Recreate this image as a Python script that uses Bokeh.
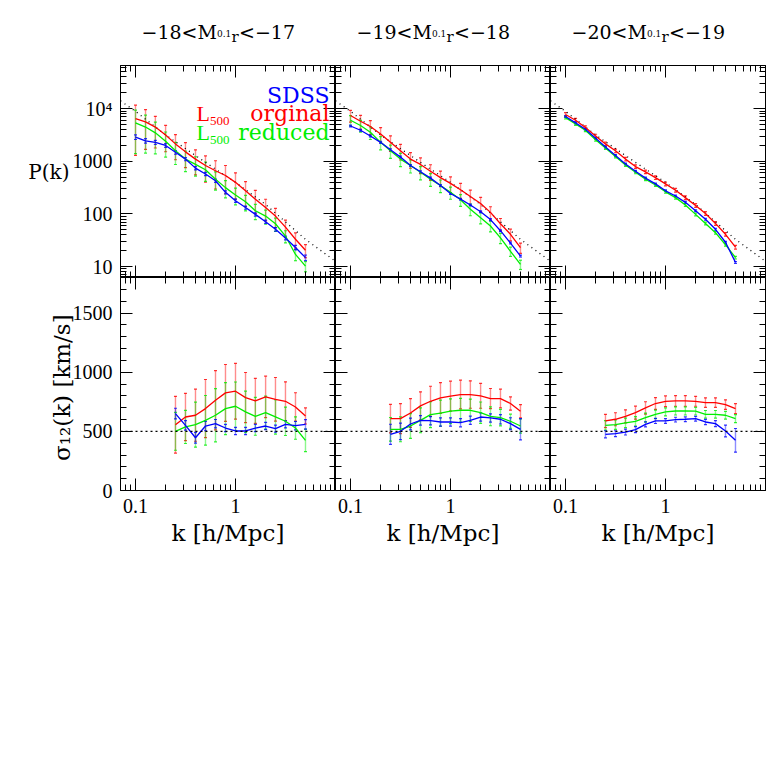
import math
from bokeh.plotting import figure
from bokeh.layouts import gridplot, column
from bokeh.models import (FixedTicker, LogAxis, LinearAxis, CustomJSTickFormatter,
                          Label, Range1d, Whisker, TeeHead, ColumnDataSource, Span)
from bokeh.embed import file_html
from bokeh.resources import INLINE

FONT = "Liberation Serif"
WFONT = "DejaVu Serif"
BLUE, RED, GREEN = "#0000ff", "#ff0000", "#00ee00"

# ---------------- data ----------------
k_pk = [0.1, 0.126, 0.158, 0.2, 0.251, 0.316, 0.398, 0.501, 0.631, 0.794,
        1.0, 1.26, 1.58, 2.0, 2.51, 3.16, 3.98, 5.01]
k_sig = [0.251, 0.316, 0.398, 0.501, 0.631, 0.794, 1.0, 1.26, 1.58, 2.0,
         2.51, 3.16, 3.98, 5.01]
k_model = [0.0708, 0.1, 0.2, 0.5, 1.0, 2.0, 5.0, 10.0]
pk_model = [14100, 8900, 3160, 955, 398, 151, 33, 12.6]
sigma_ref = 500

title_lo = ["\u221218", "\u221219", "\u221220"]
title_hi = ["\u221217", "\u221218", "\u221219"]

# P(k), -18<M<-17
pk_sdss_1 = [2880, 2450, 2290, 2000, 1480, 1100, 741, 575, 427, 257, 178, 132, 98, 71, 51, 35, 23, 14.8]
pk_orig_1 = [6460, 5620, 4470, 3160, 2140, 1510, 1100, 832, 661, 537, 398, 275, 191, 132, 91, 56, 33, 20.4]
pk_redu_1 = [5370, 4470, 3470, 2400, 1580, 1100, 871, 692, 457, 316, 229, 170, 115, 91, 65, 38, 17, 10.2]
rel_sdss_1 = [0.1, 0.1, 0.09, 0.08, 0.08, 0.07, 0.07, 0.07, 0.07, 0.07, 0.07, 0.07, 0.07, 0.07, 0.08, 0.08, 0.1, 0.12]
rel_orig_1 = [0.8, 0.7, 0.6, 0.52, 0.5, 0.5, 0.5, 0.52, 0.55, 0.55, 0.52, 0.5, 0.47, 0.44, 0.4, 0.36, 0.32, 0.28]
rel_redu_1 = [0.74, 0.68, 0.6, 0.5, 0.45, 0.42, 0.4, 0.4, 0.38, 0.36, 0.35, 0.33, 0.32, 0.3, 0.28, 0.26, 0.24, 0.22]

# P(k), -19<M<-18
pk_sdss_2 = [4680, 3890, 3020, 2290, 1660, 1200, 832, 631, 479, 347, 245, 191, 148, 110, 78, 48, 28, 15.8]
pk_orig_2 = [7410, 5750, 4570, 3310, 2290, 1580, 1100, 871, 646, 490, 380, 288, 214, 158, 107, 65, 41, 22.9]
pk_redu_2 = [6030, 4790, 3550, 2290, 1580, 1100, 832, 617, 457, 347, 257, 186, 123, 85, 59, 35, 19.5, 11.0]
rel_sdss_2 = [0.04] * 18
rel_orig_2 = [0.25, 0.3, 0.3, 0.32, 0.33, 0.33, 0.33, 0.33, 0.33, 0.33, 0.33, 0.32, 0.32, 0.3, 0.28, 0.26, 0.25, 0.22]
rel_redu_2 = [0.22, 0.25, 0.27, 0.28, 0.28, 0.28, 0.28, 0.28, 0.27, 0.27, 0.26, 0.25, 0.25, 0.24, 0.23, 0.22, 0.2, 0.2]

# P(k), -20<M<-19
pk_sdss_3 = [7080, 5370, 4070, 2750, 1860, 1290, 891, 646, 479, 372, 275, 219, 166, 115, 79, 51, 29, 12.0]
pk_orig_3 = [7760, 6030, 4370, 3020, 2140, 1580, 1100, 794, 631, 490, 372, 282, 204, 145, 102, 66, 41, 23.4]
pk_redu_3 = [6760, 5130, 3890, 2570, 1780, 1230, 851, 617, 457, 355, 263, 204, 148, 98, 66, 44, 26, 14.8]
rel_sdss_3 = [0.04] * 18
rel_orig_3 = [0.08] * 18
rel_redu_3 = [0.06] * 18

# sigma_12(k)
sg_sdss_1 = [650, 551, 446, 545, 565, 528, 503, 503, 528, 545, 523, 559, 548, 559]
sg_orig_1 = [556, 621, 636, 692, 763, 825, 839, 785, 757, 791, 771, 754, 706, 630]
sg_redu_1 = [500, 537, 556, 593, 636, 692, 712, 664, 627, 658, 622, 585, 528, 424]
er_sdss_1 = [45, 40, 45, 40, 35, 30, 30, 30, 30, 30, 30, 30, 35, 40]
er_orig_1 = [240, 200, 220, 246, 250, 240, 235, 212, 190, 175, 184, 164, 120, 68]
er_redu_1 = [160, 140, 190, 210, 225, 220, 205, 175, 160, 140, 145, 120, 95, 95]

sg_sdss_2 = [475, 500, 562, 593, 590, 579, 579, 573, 593, 621, 613, 602, 565, 517]
sg_orig_2 = [607, 607, 655, 715, 754, 782, 797, 811, 811, 800, 777, 777, 735, 670]
sg_redu_2 = [517, 517, 545, 593, 641, 653, 670, 678, 678, 658, 627, 616, 585, 545]
er_sdss_2 = [85, 70, 50, 40, 35, 35, 35, 35, 35, 35, 35, 40, 50, 90]
er_orig_2 = [120, 127, 121, 119, 127, 130, 127, 121, 116, 105, 85, 79, 56, 56]
er_redu_2 = [100, 105, 105, 105, 110, 110, 105, 100, 95, 90, 80, 70, 60, 60]

sg_sdss_3 = [475, 480, 494, 514, 559, 588, 588, 599, 602, 607, 579, 565, 503, 424]
sg_orig_3 = [588, 602, 627, 658, 698, 735, 754, 757, 757, 754, 743, 743, 726, 692]
sg_redu_3 = [551, 556, 571, 585, 616, 644, 664, 672, 672, 670, 644, 644, 636, 607]
er_sdss_3 = [30, 25, 25, 25, 22, 22, 20, 20, 20, 20, 22, 25, 50, 100]
er_orig_3 = [56, 55, 55, 55, 52, 50, 45, 45, 45, 42, 40, 40, 40, 42]
er_redu_3 = [40, 40, 40, 40, 38, 36, 34, 34, 34, 32, 32, 32, 32, 34]

x_major = [0.1, 1.0]
x_minor = [0.07, 0.08, 0.09, 0.2, 0.3, 0.4, 0.5, 0.6, 0.7, 0.8, 0.9,
           2, 3, 4, 5, 6, 7, 8, 9]
pk_major = [10, 100, 1000, 10000]
pk_minor = [7, 8, 9, 20, 30, 40, 50, 60, 70, 80, 90, 200, 300, 400, 500, 600, 700, 800, 900,
            2000, 3000, 4000, 5000, 6000, 7000, 8000, 9000, 20000, 30000, 40000, 50000, 60000]
sg_major = [0, 500, 1000, 1500]
sg_minor = [100, 200, 300, 400, 600, 700, 800, 900, 1100, 1200, 1300, 1400, 1600, 1700]

# ---------------- layout ----------------
X_MIN, X_MAX = 0.0708, 10.0
PK_MIN, PK_MAX = 6.2, 66000
SG_MIN, SG_MAX = 0, 1800
FW, FH_TOP, FH_BOT = 215, 212, 213
LEFT, TOP, BOTTOM, RIGHT = 120, 65, 72, 5

empty_fmt = CustomJSTickFormatter(code="return '';")
x_fmt = CustomJSTickFormatter(code="return tick < 1 ? tick.toFixed(1) : tick.toFixed(0);")
pk_fmt = CustomJSTickFormatter(code="return tick >= 10000 ? '10\u2074' : tick.toFixed(0);")
sg_fmt = CustomJSTickFormatter(code="return tick.toFixed(0);")


def style_axis(ax, major, minor, fmt=None):
    ax.ticker = FixedTicker(ticks=major, minor_ticks=minor)
    ax.major_tick_in = 12
    ax.major_tick_out = 0
    ax.minor_tick_in = 6
    ax.minor_tick_out = 0
    ax.axis_line_color = "black"
    ax.major_tick_line_color = "black"
    ax.minor_tick_line_color = "black"
    ax.axis_line_width = 1
    if fmt is None:
        ax.formatter = empty_fmt
        ax.major_label_text_font_size = "0px"
        ax.major_label_standoff = 0
    else:
        ax.formatter = fmt
        ax.major_label_text_font = FONT
        ax.major_label_text_font_size = "20px"
        ax.major_label_text_color = "black"
        ax.major_label_standoff = 8


def axis_title(ax, text, standoff, size, orientation="parallel"):
    ax.axis_label = text
    ax.axis_label_text_font = WFONT
    ax.axis_label_text_font_size = size
    ax.axis_label_text_font_style = "normal"
    ax.axis_label_text_color = "black"
    ax.axis_label_standoff = standoff
    ax.axis_label_orientation = orientation


def draw(p, k, vals, errs, color):
    lo = [v - e for v, e in zip(vals, errs)]
    hi = [v + e for v, e in zip(vals, errs)]
    src = ColumnDataSource(dict(k=k, v=vals, lo=lo, hi=hi))
    p.add_layout(Whisker(source=src, base="k", upper="hi", lower="lo",
                         line_color=color, line_alpha=0.45, line_width=1.4,
                         upper_head=TeeHead(size=3, line_color=color, line_alpha=0.8, line_width=1.2),
                         lower_head=TeeHead(size=3, line_color=color, line_alpha=0.8, line_width=1.2)))
    p.line("k", "v", source=src, line_color=color, line_width=1.3)


def make_fig(row, col):
    top = row == 0
    p = figure(x_axis_type="log", y_axis_type="log" if top else "linear",
               x_range=Range1d(X_MIN, X_MAX),
               y_range=Range1d(PK_MIN, PK_MAX) if top else Range1d(SG_MIN, SG_MAX),
               frame_width=FW, frame_height=FH_TOP if top else FH_BOT,
               output_backend="svg", toolbar_location=None,
               min_border=0,
               min_border_left=LEFT if col == 0 else 0,
               min_border_right=RIGHT if col == 2 else 0,
               min_border_top=0,
               min_border_bottom=0 if top else BOTTOM,
               background_fill_color="white", border_fill_color="white",
               outline_line_color="black")
    p.xgrid.visible = False
    p.ygrid.visible = False
    if top:
        p.add_layout(LogAxis(), "above")
        p.add_layout(LogAxis(), "right")
        ymaj, ymin, yfmt = pk_major, pk_minor, pk_fmt
    else:
        p.add_layout(LinearAxis(), "above")
        p.add_layout(LinearAxis(), "right")
        ymaj, ymin, yfmt = sg_major, sg_minor, sg_fmt
    for ax in p.below + p.above:
        style_axis(ax, x_major, x_minor, x_fmt if (not top and ax in p.below) else None)
    for ax in p.left + p.right:
        style_axis(ax, ymaj, ymin, yfmt if (col == 0 and ax in p.left) else None)
    return p


pk_sets = [(pk_sdss_1, pk_orig_1, pk_redu_1, rel_sdss_1, rel_orig_1, rel_redu_1),
           (pk_sdss_2, pk_orig_2, pk_redu_2, rel_sdss_2, rel_orig_2, rel_redu_2),
           (pk_sdss_3, pk_orig_3, pk_redu_3, rel_sdss_3, rel_orig_3, rel_redu_3)]
sg_sets = [(sg_sdss_1, sg_orig_1, sg_redu_1, er_sdss_1, er_orig_1, er_redu_1),
           (sg_sdss_2, sg_orig_2, sg_redu_2, er_sdss_2, er_orig_2, er_redu_2),
           (sg_sdss_3, sg_orig_3, sg_redu_3, er_sdss_3, er_orig_3, er_redu_3)]


def lab(p, x, y, text, size, color="black", align="left", units="screen", font=WFONT):
    p.add_layout(Label(x=x, y=y, x_units=units, y_units=units, text=text,
                       text_font=font, text_font_size=size, text_color=color,
                       text_align=align, text_baseline="alphabetic"))


# title strip (its frame covers the whole strip, so labels are not clipped)
TW = LEFT + 3 * FW + RIGHT
tfig = figure(x_range=Range1d(0, TW), y_range=Range1d(0, TOP),
              frame_width=TW, frame_height=TOP, min_border=0,
              x_axis_location=None, y_axis_location=None,
              output_backend="svg", toolbar_location=None,
              outline_line_color=None, background_fill_color="white",
              border_fill_color="white")
tfig.grid.visible = False

top_figs, bot_figs = [], []
for c in range(3):
    x0 = LEFT + c * FW + 21
    lab(tfig, x0, 34, title_lo[c] + "<M", "19px", units="data")
    lab(tfig, x0 + 75.5, 32, "0.1", "9px", units="data")
    lab(tfig, x0 + 90, 29, "r", "15px", units="data")
    lab(tfig, x0 + 97.5, 34, "<" + title_hi[c], "19px", units="data")

    # power spectrum panel
    p = make_fig(0, c)
    s, o, r, es, eo, er = pk_sets[c]
    p.line(k_model, pk_model, line_color="black", line_dash="1 4", line_width=1.3)
    draw(p, k_pk, o, [v * e for v, e in zip(o, eo)], RED)
    draw(p, k_pk, r, [v * e for v, e in zip(r, er)], GREEN)
    draw(p, k_pk, s, [v * e for v, e in zip(s, es)], BLUE)
    top_figs.append(p)

    # sigma_12 panel
    q = make_fig(1, c)
    q.add_layout(Span(location=sigma_ref, dimension="width", line_color="black",
                      line_dash="2 3", line_width=1.2))
    s, o, r, es, eo, er = sg_sets[c]
    draw(q, k_sig, o, eo, RED)
    draw(q, k_sig, r, er, GREEN)
    draw(q, k_sig, s, es, BLUE)
    axis_title(q.below[0], "k [h/Mpc]", 4, "23px")
    bot_figs.append(q)

# legend in first panel
p0 = top_figs[0]
lab(p0, 209, 182, "SDSS", "22px", BLUE, align="right")
lab(p0, 209, 164, "orginal", "22px", RED, align="right")
lab(p0, 76, 164, "L", "22px", RED, font=FONT)
lab(p0, 89.5, 157, "500", "13px", RED, font=FONT)
lab(p0, 209, 145, "reduced", "22px", GREEN, align="right")
lab(p0, 76, 145, "L", "22px", GREEN, font=FONT)
lab(p0, 89.5, 138, "500", "13px", GREEN, font=FONT)

# y-axis titles
axis_title(p0.left[0], "P(k)", 0, "20px", "horizontal")
axis_title(bot_figs[0].left[0], "\u03c3\u2081\u2082(k)  [km/s]", -5, "23px")

grid = gridplot([top_figs, bot_figs], toolbar_location=None)
layout = column(tfig, grid)

open("out.html", "w").write(file_html(layout, INLINE))
